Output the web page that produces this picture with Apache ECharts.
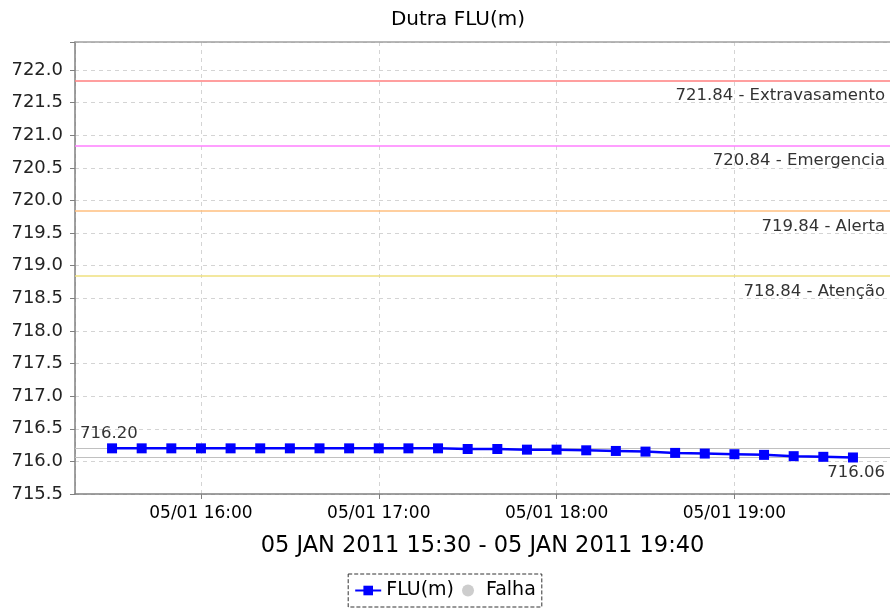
<!DOCTYPE html>
<html>
<head>
<meta charset="utf-8">
<script src="https://cdn.jsdelivr.net/npm/echarts@6/dist/echarts.min.js"></script>
<style>html,body{margin:0;padding:0;background:#fff}#c{width:890px;height:614px}</style>
</head>
<body>
<div id="c"></div>
<script>
// ---- data ----
const chartTitle = 'Dutra FLU(m)';
const periodLabel = '05 JAN 2011 15:30 - 05 JAN 2011 19:40';
const times = ['15:30','15:40','15:50','16:00','16:10','16:20','16:30','16:40','16:50','17:00','17:10','17:20','17:30','17:40','17:50','18:00','18:10','18:20','18:30','18:40','18:50','19:00','19:10','19:20','19:30','19:40'];
const fluValues = [716.20,716.20,716.20,716.20,716.20,716.20,716.20,716.20,716.20,716.20,716.20,716.20,716.19,716.19,716.18,716.18,716.17,716.16,716.15,716.13,716.12,716.11,716.10,716.08,716.07,716.06];
const falhaValues = [];
const thresholdValues = [721.84, 720.84, 719.84, 718.84];
const thresholdNames = ['Extravasamento', 'Emergencia', 'Alerta', 'Atenção'];
const thresholdColors = ['#ff7f7f', '#ff7fff', '#ffbf7f', '#efe07f'];
const yMin = 715.5, yMax = 722.43, yStep = 0.5;

// ---- build ----
function ts(hm) { const [h, m] = hm.split(':').map(Number); const d = new Date(2011, 0, 5, h, m, 0); return d.getTime(); }
const fluData = times.map((t, i) => [ts(t), fluValues[i]]);
const span = ts(times[times.length - 1]) - ts(times[0]);
const xMin = ts(times[0]) - span * 0.05;
const xMax = ts(times[times.length - 1]) + span * 0.05;
const pad = n => String(n).padStart(2, '0');

const markData = thresholdValues.map((v, i) => ({
  yAxis: v,
  lineStyle: { color: thresholdColors[i], width: 1.5, type: 'solid' },
  label: { show: true, position: 'insideEndBottom', formatter: v.toFixed(2) + ' - ' + thresholdNames[i],
           color: '#333', fontSize: 16.5, fontFamily: 'DejaVu Sans', distance: [5, 7] }
}));
markData.push({
  type: 'max',
  lineStyle: { color: '#c0c0c0', width: 1, type: 'solid' },
  label: { show: true, position: 'insideStartTop', formatter: p => Number(p.value).toFixed(2),
           color: '#333', fontSize: 16.5, fontFamily: 'DejaVu Sans', distance: [5, 6] }
});
markData.push({
  type: 'min',
  lineStyle: { color: '#c0c0c0', width: 1, type: 'solid' },
  label: { show: true, position: 'insideEndBottom', formatter: p => Number(p.value).toFixed(2),
           color: '#333', fontSize: 16.5, fontFamily: 'DejaVu Sans', distance: [5, 7] }
});

const chart = echarts.init(document.getElementById('c'), null, { renderer: 'canvas' });
chart.setOption({
  animation: false,
  backgroundColor: '#fff',
  title: { text: chartTitle, left: 453, top: 5, textAlign: 'center',
           textStyle: { fontFamily: 'DejaVu Sans', fontSize: 20, fontWeight: 'normal', color: '#000' } },
  grid: { left: 75, right: -3, top: 42, bottom: 120, containLabel: false },
  legend: {
    bottom: 7, left: 'center',
    data: ['FLU(m)', 'Falha'],
    borderColor: '#333', borderWidth: 1, borderType: 'dashed', padding: [7, 6],
    itemGap: 8, itemWidth: 26, itemHeight: 12,
    textStyle: { fontFamily: 'DejaVu Sans', fontSize: 19, color: '#000' }
  },
  xAxis: [{
    type: 'time', min: xMin, max: xMax,
    minInterval: 3600000, maxInterval: 3600000,
    name: periodLabel, nameLocation: 'middle', nameGap: 41,
    nameTextStyle: { fontFamily: 'DejaVu Sans', fontSize: 22.5, color: '#000' },
    axisLine: { show: true, lineStyle: { color: '#808080', width: 1.5 } },
    axisTick: { show: true, length: 5, lineStyle: { color: '#808080' } },
    axisLabel: { margin: 11, fontFamily: 'DejaVu Sans', fontSize: 17, color: '#000',
      formatter: v => { const d = new Date(v); if (d.getMinutes() !== 0 || d.getSeconds() !== 0) return ''; return pad(d.getDate()) + '/' + pad(d.getMonth() + 1) + ' ' + pad(d.getHours()) + ':' + pad(d.getMinutes()); } },
    splitLine: { show: true, lineStyle: { color: '#d4d4d4', type: [4, 4] } }
  }, {
    type: 'time', min: xMin, max: xMax, position: 'top',
    axisLine: { show: true, lineStyle: { color: '#a0a0a0', width: 1.5 } },
    axisTick: { show: false }, axisLabel: { show: false }, splitLine: { show: false }
  }],
  yAxis: {
    type: 'value', min: yMin, max: yMax, interval: yStep,
    axisLine: { show: true, lineStyle: { color: '#808080', width: 1.5 } },
    axisTick: { show: true, length: 5, lineStyle: { color: '#808080' } },
    axisLabel: { margin: 12, fontFamily: 'DejaVu Sans', fontSize: 18, color: '#222',
      formatter: v => Math.abs(v * 2 - Math.round(v * 2)) < 1e-6 ? v.toFixed(1) : '' },
    splitLine: { show: true, lineStyle: { color: '#d4d4d4', type: [4, 4] } }
  },
  series: [{
    name: 'FLU(m)', type: 'line', data: fluData, z: 4,
    symbol: 'rect', symbolSize: 10,
    itemStyle: { color: '#0000ff' },
    lineStyle: { color: '#0000ff', width: 2.5 },
    markLine: { silent: true, symbol: 'none', z: 1, data: markData }
  }, {
    name: 'Falha', type: 'scatter', data: falhaValues,
    symbol: 'circle', itemStyle: { color: '#c0c0c0' }
  }]
});
</script>
</body>
</html>
